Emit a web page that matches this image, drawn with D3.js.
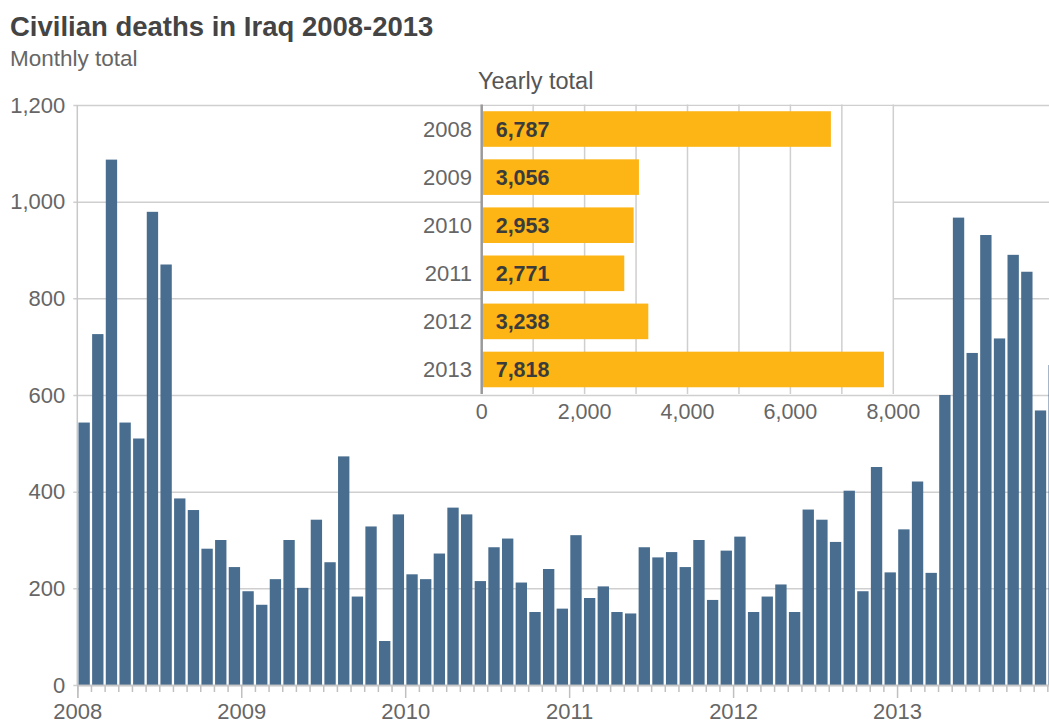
<!DOCTYPE html>
<html>
<head>
<meta charset="utf-8">
<script src="https://cdn.jsdelivr.net/npm/d3@7"></script>
<style>
    body { margin: 0; background: #fff; }
    svg text { font-family: "Liberation Sans", Arial, Helvetica, sans-serif; }
</style>
</head>
<body>
<div id="chart"></div>
<script>
// monthly civilian deaths, Jan 2008 - Dec 2013
const years = ["2008", "2009", "2010", "2011", "2012", "2013"];
const monthly = [
    543, 726, 1087, 543, 510, 979, 870, 386, 362, 282, 300, 244,
    194, 166, 219, 300, 201, 342, 254, 473, 183, 328, 91, 353,
    229, 219, 272, 367, 353, 215, 285, 303, 212, 151, 240, 158,
    310, 180, 204, 151, 148, 285, 264, 275, 244, 300, 176, 278,
    307, 151, 183, 208, 151, 363, 342, 296, 402, 194, 451, 233,
    322, 421, 232, 600, 967, 687, 931, 717, 890, 855, 568, 662
];
const yearlyTotals = [6787, 3056, 2953, 2771, 3238, 7818];
const yTicks = [0, 200, 400, 600, 800, 1000, 1200];
const insetTicks = [0, 2000, 4000, 6000, 8000];

let width = 1049,
    height = 725,
    plotLeft = 77.3,
    plotRight = 1061,   // last bar runs off the page, like the original
    plotTop = 105,
    plotBottom = 685;

let svg = d3.select("#chart").append("svg")
    .attr("width", width)
    .attr("height", height);

// titles
svg.append("text")
    .attr("x", 10).attr("y", 36)
    .attr("font-size", 27.5).attr("font-weight", "bold")
    .attr("fill", "#444")
    .text("Civilian deaths in Iraq 2008-2013");

svg.append("text")
    .attr("x", 10).attr("y", 66)
    .attr("font-size", 22.5)
    .attr("fill", "#666")
    .text("Monthly total");

// scales
let months = d3.range(monthly.length);

let x = d3.scaleBand()
    .domain(months)
    .range([plotLeft, plotRight])
    .paddingInner(0.17)
    .paddingOuter(0.085);

let xTick = d3.scaleLinear()
    .domain([0, monthly.length])
    .range([plotLeft, plotRight]);

let y = d3.scaleLinear()
    .domain([0, 1200])
    .range([plotBottom, plotTop]);

// y grid + labels
let yAxis = svg.append("g")
    .attr("transform", "translate(" + plotLeft + ",0)")
    .call(d3.axisLeft(y)
        .tickValues(yTicks)
        .tickSize(-(width - plotLeft))
        .tickSizeOuter(0)
        .tickPadding(12)
        .tickFormat(d3.format(",")));

yAxis.select(".domain").remove();
yAxis.selectAll(".tick line")
    .attr("x1", -4)
    .attr("stroke", "#cfcfcf")
    .attr("stroke-width", 1.5);
yAxis.selectAll(".tick text")
    .attr("font-size", 22)
    .attr("fill", "#666")
    .attr("font-family", null);

// vertical axis line
svg.append("line")
    .attr("x1", plotLeft).attr("x2", plotLeft)
    .attr("y1", plotTop).attr("y2", plotBottom)
    .attr("stroke", "#c8c8c8")
    .attr("stroke-width", 1.5);

// monthly bars
svg.selectAll(".month")
    .data(monthly)
    .enter().append("rect")
    .attr("class", "month")
    .attr("x", function(d, i) { return x(i); })
    .attr("width", x.bandwidth())
    .attr("y", function(d) { return y(d); })
    .attr("height", function(d) { return y(0) - y(d); })
    .attr("fill", "#486d8e");

// x axis: small tick each month, long tick + label each year
let minor = svg.append("g")
    .attr("transform", "translate(0," + plotBottom + ")")
    .call(d3.axisBottom(xTick)
        .tickValues(months.filter(function(m) { return m % 12 !== 0; }))
        .tickSize(7)
        .tickFormat(""));

let major = svg.append("g")
    .attr("transform", "translate(0," + plotBottom + ")")
    .call(d3.axisBottom(xTick)
        .tickValues(months.filter(function(m) { return m % 12 === 0; }))
        .tickSize(13)
        .tickPadding(5)
        .tickFormat(function(m) { return years[m / 12]; }));

[minor, major].forEach(function(g) {
    g.select(".domain")
        .attr("stroke", "#c8c8c8")
        .attr("stroke-width", 1.5);
    g.selectAll(".tick line")
        .attr("stroke", "#c0c0c0")
        .attr("stroke-width", 1.5);
});
major.selectAll(".tick text")
    .attr("font-size", 22)
    .attr("fill", "#666")
    .attr("font-family", null);

// INSET: yearly totals
let inLeft = 481.7,
    inRight = 893.3,
    inTop = 104.5,
    inBottom = 394;

let xIn = d3.scaleLinear()
    .domain([0, 8000])
    .range([inLeft, inRight]);

let yIn = d3.scaleBand()
    .domain(years)
    .range([inTop, inBottom])
    .paddingInner(0.26)
    .paddingOuter(0.14);

svg.append("rect")
    .attr("x", inLeft)
    .attr("y", inTop + 1.5)
    .attr("width", inRight - inLeft)
    .attr("height", inBottom - inTop - 3)
    .attr("fill", "#fff");

svg.append("text")
    .attr("x", 478).attr("y", 89)
    .attr("font-size", 23.5)
    .attr("fill", "#555")
    .text("Yearly total");

// vertical grid every 1,000
svg.selectAll(".ingrid")
    .data(d3.range(1000, 8001, 1000))
    .enter().append("line")
    .attr("class", "ingrid")
    .attr("x1", function(d) { return xIn(d); })
    .attr("x2", function(d) { return xIn(d); })
    .attr("y1", inTop)
    .attr("y2", inBottom)
    .attr("stroke", "#cfcfcf")
    .attr("stroke-width", 1.5);

svg.selectAll(".year")
    .data(yearlyTotals)
    .enter().append("rect")
    .attr("class", "year")
    .attr("x", xIn(0) + 1)
    .attr("y", function(d, i) { return yIn(years[i]); })
    .attr("width", function(d) { return xIn(d) - xIn(0) - 1; })
    .attr("height", yIn.bandwidth())
    .attr("fill", "#fdb515");

svg.selectAll(".yearVal")
    .data(yearlyTotals)
    .enter().append("text")
    .attr("class", "yearVal")
    .attr("x", xIn(0) + 14)
    .attr("y", function(d, i) { return yIn(years[i]) + yIn.bandwidth() / 2; })
    .attr("dy", "0.36em")
    .attr("font-size", 21.5)
    .attr("font-weight", "bold")
    .attr("fill", "#3b3b3b")
    .text(function(d) { return d3.format(",")(d); });

svg.selectAll(".yearLab")
    .data(years)
    .enter().append("text")
    .attr("class", "yearLab")
    .attr("x", 472)
    .attr("y", function(d) { return yIn(d) + yIn.bandwidth() / 2; })
    .attr("dy", "0.36em")
    .attr("text-anchor", "end")
    .attr("font-size", 22)
    .attr("fill", "#666")
    .text(function(d) { return d; });

// dark zero line of the inset
svg.append("line")
    .attr("x1", xIn(0)).attr("x2", xIn(0))
    .attr("y1", inTop).attr("y2", inBottom)
    .attr("stroke", "#999")
    .attr("stroke-width", 2.5);

svg.selectAll(".inTick")
    .data(insetTicks)
    .enter().append("text")
    .attr("class", "inTick")
    .attr("x", function(d) { return xIn(d); })
    .attr("y", 419)
    .attr("text-anchor", "middle")
    .attr("font-size", 21.5)
    .attr("fill", "#666")
    .text(function(d) { return d3.format(",")(d); });
</script>
</body>
</html>
